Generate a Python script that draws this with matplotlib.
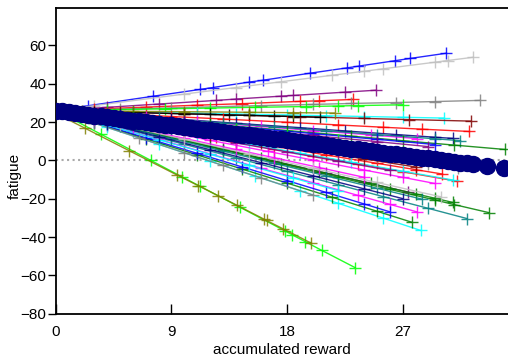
import matplotlib
matplotlib.use("Agg")
import matplotlib.pyplot as plt

plt.rcParams['font.family'] = ['Liberation Sans', 'DejaVu Sans']

# colour names of the individual runs
run_colors = [
    "#0000ff", "#c0c0c0", "#800080", "#ff0000", "#808080", "#00ff00", "#00ffff",
    "#800000", "#000000", "#808000", "#ff0000", "#000080", "#ff00ff", "#008080",
    "#008000", "#0000ff", "#00ff00", "#800080", "#ff0000", "#ff0000", "#00ffff",
    "#ff00ff", "#800080", "#800080", "#808080", "#808000", "#008000", "#008080",
    "#008000", "#00ffff", "#008000", "#ff00ff", "#0000ff", "#00ff00", "#808000",
    "#808080", "#00ffff", "#008080", "#800000", "#ff00ff", "#000080", "#c0c0c0",
]

# marker positions (accumulated reward) of each run
run_x = [
    [0, 2.5, 7.6, 11.2, 12.2, 15.0, 16.1, 19.8, 22.7, 23.6, 26.4, 27.6, 30.4],
    [0, 3, 10, 14, 17.5, 21.5, 24, 25.5, 29.5, 30.5, 32.5],
    [0, 4, 8, 12.5, 14, 17.5, 18.5, 22.5, 24.9],
    [0, 3, 7, 11, 14.5, 19, 20.5, 23.1],
    [0, 5, 9, 16, 20, 23, 26.5, 29.5, 33],
    [0, 4, 8.5, 12, 15.5, 19.5, 22, 23.5, 27],
    [0, 6, 11, 14, 18, 21, 24, 27, 30.2],
    [0, 5, 10, 15, 19, 24, 27.5, 32.3],
    [0, 3, 6, 10, 12, 13.5, 15, 17, 18.5, 20.6],
    [0, 2, 6, 10, 15, 18.5, 21.7],
    [0, 4, 9, 13, 18, 22, 25.5, 28.5, 32.2],
    [0, 5, 9, 14, 19, 22.5, 26.5, 29.5, 30.9],
    [0, 3, 7, 11, 16, 20, 24.5, 28.1],
    [0, 4, 8, 13, 17, 21, 25, 29.5, 31.5],
    [0, 6, 12, 18, 23, 27, 31, 35],
    [0, 5, 10, 15, 20, 25, 29.5],
    [0, 4, 9, 14, 18, 22],
    [0, 5, 10, 15, 20, 25, 29],
    [0, 5, 10, 14, 17, 20, 23.5, 27, 31.2],
    [0, 4, 8, 12.5, 16.5, 21, 25, 28, 30.1],
    [0, 3, 7, 11, 15, 19, 23, 27, 30.9],
    [0, 4, 8, 12, 16.5, 20, 24, 27, 29.5],
    [0, 3, 7, 10, 14, 18, 22, 26],
    [0, 5, 9, 13, 17, 21, 24, 27.4],
    [0, 5, 10, 15, 20, 25, 29, 31.3],
    [0, 4, 9, 14, 19, 24, 28],
    [0, 3, 7, 12, 16, 20.5, 24.5, 28, 29.5, 30.9],
    [0, 6, 10, 14, 18, 22, 25.5, 29, 32],
    [0, 4, 8, 13, 17.5, 22, 26, 29.5, 31, 33.7],
    [0, 4, 8, 12, 15.5, 19, 22, 25.5, 28.4],
    [0, 3, 7, 11, 14.5, 18, 21.5, 25, 27.7],
    [0, 4, 8, 12, 16, 20, 23.5, 26, 28.1],
    [0, 3, 7, 11, 14.5, 18, 21, 24, 26],
    [0, 3.5, 7.4, 9.8, 11.2, 14.3, 17.8, 18.4, 19.4, 20.7, 23.3],
    [0, 2.3, 5.7, 9.4, 11.1, 12.6, 14.1, 16.2, 16.4, 17.7, 19.9],
    [0, 3, 6.5, 10, 13, 16, 20],
    [0, 4, 8, 12, 15, 18.5, 22],
    [0, 5, 9, 13, 17, 21, 25, 28.5],
    [0, 4, 8, 12, 16, 20, 24, 28],
    [0, 3, 6, 10, 14, 17, 20.5, 24],
    [0, 4, 8, 12, 16, 20, 24, 27],
    [0, 5, 10, 15, 20, 25, 30],
]

# fatigue at those positions
run_y = [
    [26, 28.5, 33.5, 37.0, 38.0, 40.8, 41.8, 45.5, 48.3, 49.2, 52.0, 53.2, 55.9],
    [26, 28.6, 34.6, 38.0, 41.0, 44.4, 46.5, 47.8, 51.2, 52.1, 53.8],
    [26, 27.7, 29.4, 31.3, 32.0, 33.5, 33.9, 35.6, 36.6],
    [26, 26.8, 27.8, 28.8, 29.6, 30.8, 31.1, 31.8],
    [26, 26.8, 27.4, 28.6, 29.2, 29.7, 30.2, 30.7, 31.3],
    [26, 26.4, 26.9, 27.3, 27.7, 28.1, 28.4, 28.6, 29.0],
    [26, 25.2, 24.6, 24.2, 23.7, 23.3, 22.9, 22.5, 22.1],
    [26, 25.2, 24.3, 23.5, 22.8, 21.9, 21.3, 20.5],
    [26, 25.5, 25.0, 24.3, 24.0, 23.7, 23.5, 23.1, 22.9, 22.5],
    [26, 25.9, 25.6, 25.4, 25.1, 24.9, 24.7],
    [26, 24.6, 22.9, 21.6, 19.9, 18.5, 17.3, 16.3, 15.1],
    [26, 23.7, 21.8, 19.4, 17.1, 15.4, 13.5, 12.1, 11.5],
    [26, 24.4, 22.4, 20.3, 17.7, 15.6, 13.3, 11.4],
    [26, 24.0, 22.0, 19.5, 17.5, 15.5, 13.5, 11.3, 10.3],
    [26, 22.5, 19.0, 15.6, 12.7, 10.3, 8.0, 5.7],
    [26, 23.0, 20.0, 17.0, 14.0, 11.0, 8.3],
    [26, 23.2, 19.7, 16.2, 13.4, 10.6],
    [26, 22.8, 19.5, 16.3, 13.0, 9.8, 7.2],
    [26, 20.1, 14.2, 9.5, 5.9, 2.4, -1.7, -5.9, -10.8],
    [26, 21.6, 17.2, 12.3, 7.9, 2.9, -1.5, -4.8, -7.1],
    [26, 22.5, 17.8, 13.1, 8.5, 3.8, -0.9, -5.6, -10.2],
    [26, 20.8, 15.7, 10.5, 4.7, 0.2, -5.0, -8.8, -12.0],
    [26, 22.4, 17.6, 14.0, 9.2, 4.4, -0.4, -5.2],
    [26, 18.3, 12.1, 5.9, -0.4, -6.6, -11.2, -16.5],
    [26, 21.2, 16.4, 11.6, 6.8, 2.0, -1.8, -4.1],
    [26, 22.4, 17.9, 13.4, 8.9, 4.4, 0.8],
    [26, 21.4, 15.2, 7.4, 1.2, -5.8, -12.0, -17.4, -19.7, -21.9],
    [26, 15.4, 8.4, 1.4, -5.7, -12.7, -18.9, -25.0, -30.3],
    [26, 19.7, 13.4, 5.5, -1.7, -8.8, -15.1, -20.6, -23.0, -27.2],
    [26, 17.2, 8.4, -0.4, -8.1, -15.8, -22.4, -30.1, -36.5],
    [26, 19.7, 11.3, 2.9, -4.5, -11.8, -19.2, -26.5, -32.2],
    [26, 18.5, 11.0, 3.4, -4.1, -11.6, -18.2, -22.9, -26.8],
    [26, 19.9, 11.8, 3.7, -3.4, -10.5, -16.6, -22.7, -26.8],
    [26, 13.7, 0.0, -8.5, -13.4, -24.3, -36.6, -38.8, -42.3, -46.9, -55.9],
    [24.5, 16.7, 5.1, -7.5, -13.2, -18.3, -23.4, -30.6, -31.3, -35.7, -43.2],
    [26, 19.4, 11.7, 4.0, -2.6, -9.2, -18.0],
    [26, 18.4, 10.8, 3.2, -2.5, -9.2, -15.8],
    [26, 17.9, 11.4, 4.9, -1.5, -8.0, -14.5, -20.2],
    [26, 21.8, 17.6, 13.4, 9.2, 5.0, 0.8, -3.4],
    [26, 21.7, 17.3, 11.5, 5.7, 1.4, -3.7, -8.8],
    [26, 19.2, 12.4, 5.6, -1.2, -8.0, -14.8, -19.9],
    [26, 18.5, 11.0, 3.5, -4.0, -11.5, -19.0],
]

# mean run (large navy dots)
mean_x = [0, 0.5, 1, 1.5, 2, 2.5, 3, 3.5, 4, 4.5, 5, 5.5, 6, 6.5, 7, 7.5, 8, 8.5,
          9, 9.5, 10, 10.5, 11, 11.5, 12, 12.5, 13, 13.5, 14, 14.5, 15, 15.5, 16,
          16.5, 17, 17.5, 18, 18.5, 19, 19.5, 20, 20.5, 21, 21.5, 22, 22.5, 23,
          23.5, 24, 24.5, 25, 25.5, 26, 26.5, 27, 27.5, 28, 28.5, 29, 29.5, 30,
          30.5, 31, 31.5, 32, 32.5, 33.6, 34.9]
mean_y = [26.0, 25.6, 25.1, 24.7, 24.3, 23.9, 23.4, 23.0, 22.6, 22.1, 21.7, 21.3,
          20.8, 20.4, 20.0, 19.6, 19.1, 18.7, 18.3, 17.8, 17.4, 17.0, 16.5, 16.1,
          15.7, 15.3, 14.8, 14.4, 14.0, 13.5, 13.1, 12.7, 12.2, 11.8, 11.4, 11.0,
          10.5, 10.1, 9.7, 9.2, 8.8, 8.4, 7.9, 7.5, 7.1, 6.7, 6.2, 5.8, 5.4, 4.9,
          4.5, 4.1, 3.6, 3.2, 2.8, 2.4, 1.9, 1.5, 1.1, 0.6, 0.2, -0.2, -0.7, -1.1,
          -1.5, -1.9, -2.8, -4.0]

x_ticks = [0, 9, 18, 27]
y_ticks = [-80, -60, -40, -20, 0, 20, 40, 60]

fig = plt.figure(figsize=(5.08, 3.62), dpi=100)
ax = fig.add_axes([0.110, 0.133, 0.89, 0.845])

ax.axhline(0, color="#aaaaaa", linestyle=":", linewidth=1.5, zorder=1)

for xs, ys, c in zip(run_x, run_y, run_colors):
    ax.plot(xs, ys, color=c, linewidth=1, marker="+", markersize=9,
            markeredgewidth=1, alpha=0.85, zorder=2)

ax.plot(mean_x, mean_y, color="#000080", linestyle="none", marker="o",
        markersize=11.5, zorder=3)

ax.set_xlim(0, 35.2)
ax.set_ylim(-80, 79.5)
ax.set_xticks(x_ticks)
ax.set_yticks(y_ticks)
ax.tick_params(axis="x", direction="in", length=7, width=1, labelsize=11, pad=8)
ax.tick_params(axis="y", direction="out", length=6, width=1, labelsize=11, pad=1)
ax.spines["right"].set_visible(False)
for s in ["left", "bottom", "top"]:
    ax.spines[s].set_linewidth(1.3)

ax.set_xlabel("accumulated reward", fontsize=11, labelpad=3)
ax.set_ylabel("fatigue", fontsize=11)
ax.yaxis.set_label_coords(-0.075, 0.45)

fig.savefig("out.png", dpi=100)
